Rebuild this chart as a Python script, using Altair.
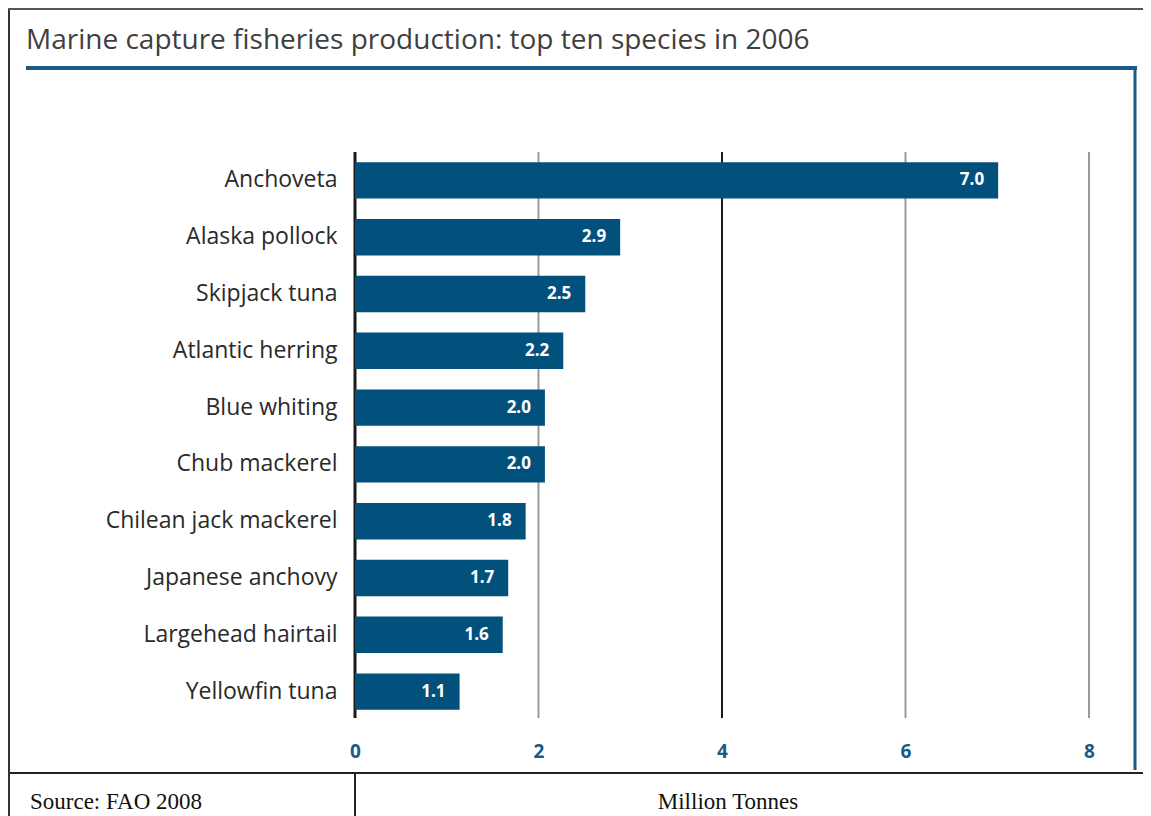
import altair as alt
import pandas as pd

species = ["Anchoveta", "Alaska pollock", "Skipjack tuna", "Atlantic herring",
           "Blue whiting", "Chub mackerel", "Chilean jack mackerel",
           "Japanese anchovy", "Largehead hairtail", "Yellowfin tuna"]
# bar lengths as drawn in the picture (million tonnes)
values = [7.01, 2.89, 2.51, 2.27, 2.07, 2.07, 1.86, 1.67, 1.61, 1.14]
# printed value labels
value_labels = ["7.0", "2.9", "2.5", "2.2", "2.0", "2.0", "1.8", "1.7", "1.6", "1.1"]
grid_ticks = [0, 2, 4, 6, 8]
grid_colors = ["#1a1a1a", "#9a9a9a", "#1a1a1a", "#9a9a9a", "#9a9a9a"]
grid_widths = [3, 2, 2, 2, 2]

title_text = "Marine capture fisheries production: top ten species in 2006"
source_text = "Source: FAO 2008"
unit_text = "Million  Tonnes"

BAR = "#02517d"
BLUE = "#1b5a86"

df = pd.DataFrame({"species": species, "value": values, "label": value_labels})
grid = pd.DataFrame({"t": grid_ticks, "c": grid_colors, "w": grid_widths})
one = pd.DataFrame({"a": [0]})

W, H = 734, 568

xscale = alt.Scale(domain=[0, 8], nice=False, zero=True)
yscale = alt.Scale(paddingInner=0.36, paddingOuter=0.18)

gridlines = alt.Chart(grid).mark_rule().encode(
    x=alt.X("t:Q", scale=xscale,
            axis=alt.Axis(values=grid_ticks, format="d", title=None, ticks=False,
                          domain=False, grid=False, labelFont="Open Sans",
                          labelFontWeight="bold", labelFontSize=19, labelFlush=False,
                          labelColor=BLUE, labelPadding=22, labelBaseline="top")),
    y=alt.value(0), y2=alt.value(566),
    color=alt.Color("c:N", scale=None),
    strokeWidth=alt.StrokeWidth("w:Q", scale=None),
)

bars = alt.Chart(df).mark_bar(color=BAR).encode(
    x=alt.X("value:Q", scale=xscale),
    y=alt.Y("species:N", sort=species, scale=yscale,
            axis=alt.Axis(title=None, ticks=False, domain=False, grid=False,
                          labelFont="Open Sans", labelFontSize=23, labelLimit=400,
                          labelColor="#2a2a2a", labelPadding=18)),
)

labels = alt.Chart(df).mark_text(align="right", dx=-14, color="white",
                                 font="Open Sans", fontWeight="bold",
                                 fontSize=17).encode(
    x=alt.X("value:Q", scale=xscale),
    y=alt.Y("species:N", sort=species, scale=yscale),
    text="label:N",
)

def rule(x, x2, y, y2, color, w):
    return alt.Chart(one).mark_rule(color=color, strokeWidth=w).encode(
        x=alt.value(x), x2=alt.value(x2), y=alt.value(y), y2=alt.value(y2))

deco = [
    rule(-329, 782, -84, -84, BLUE, 4),
    rule(780, 780, -84, 618, BLUE, 3),
    rule(-347, 788, 621, 621, "#222222", 2),
    rule(0, 0, 621, 664, "#222222", 2),
    rule(-346, -346, -143, 664, "#333333", 2),
    rule(-347, 788, -143, -143, "#555555", 2),
]

title = alt.Chart(one).mark_text(text=title_text, align="left", baseline="alphabetic",
                                 font="Open Sans", fontSize=28, color="#404040").encode(
    x=alt.value(-329), y=alt.value(-103))
source = alt.Chart(one).mark_text(text=source_text, align="left", baseline="alphabetic",
                                  font="Liberation Serif", fontSize=23,
                                  color="#111111").encode(
    x=alt.value(-325), y=alt.value(657))
unit = alt.Chart(one).mark_text(text=unit_text, align="center", baseline="alphabetic",
                                font="Liberation Serif", fontSize=23,
                                color="#111111").encode(
    x=alt.value(373), y=alt.value(657))

chart = alt.layer(gridlines, bars, labels, *deco, title, source, unit).properties(
    width=W, height=H,
    background="white",
    autosize=alt.AutoSizeParams(type="none"),
    padding={"left": 347, "top": 144, "right": 54, "bottom": 96},
).configure_view(stroke=None)

chart.save("out.html", embed_options={"renderer": "svg", "actions": False})
